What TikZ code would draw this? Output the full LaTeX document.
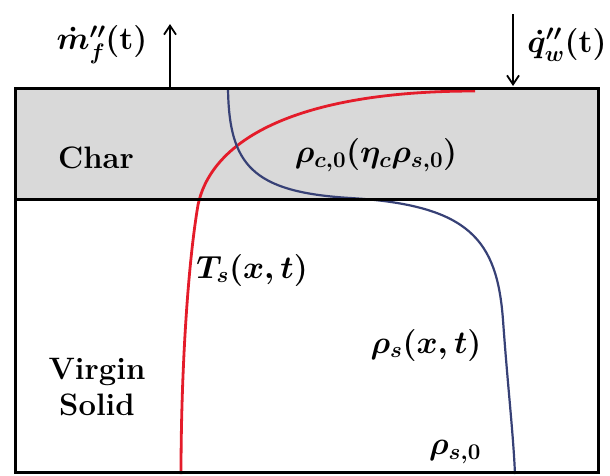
\RequirePackage{fix-cm}
\documentclass[tikz,border=0pt]{standalone}
\usepackage{amsmath}
\usepackage{tikz}
\usetikzlibrary{arrows.meta}

\definecolor{tred}{RGB}{228,28,42}
\definecolor{rhoblue}{RGB}{55,65,118}
\tikzset{lbl/.style={font=\fontsize{31}{36}\selectfont\bfseries\boldmath},
  mlbl/.style={font=\fontsize{32}{38}\selectfont\bfseries\boldmath}}

\begin{document}
\begin{tikzpicture}[x=1pt,y=-1pt,>={Straight Barb[length=9pt,width=12pt]}]
\useasboundingbox (0,0) rectangle (610,475);

%Char layer
\fill[black!15] (15,88) rectangle (598,199);

%Profiles
\draw[tred, line width=2.8pt] (475,91) .. controls (300,91) and (212,138) .. (198,205) .. controls (187,270) and (181,380) .. (181,474);
\draw[rhoblue, line width=2.2pt] (228,88) .. controls (229,165) and (252,192) .. (350,198) .. controls (470,205) and (497,240) .. (503,320) .. controls (508,390) and (513,430) .. (515,474);

%Box
\draw[line width=3pt] (15,88) rectangle (598,472);
\draw[line width=3pt] (15,199)--(598,199);

%Fluxes
\coordinate (mbase) at (170,88); \coordinate (mtip) at (170,24);
\coordinate (qtail) at (513,14); \coordinate (qbase) at (513,86);
\draw[->, line width=1.8pt] (mbase)--(mtip);
\draw[->, line width=1.8pt] (qtail)--(qbase);

\node [mlbl] (mdot) at (102,45) {$\dot{m}''_f(\mathrm{t})$};
\node [mlbl] (qdot) at (567,45) {$\dot{q}''_w(\mathrm{t})$};

\node [lbl] (char) at (96,158) {Char};
\node [mlbl] (rhoc) at (376,155) {$\rho_{c,0}(\eta_c\rho_{s,0})$};
\node [mlbl] (temp) at (252,270) {$T_s(x,t)$};
\node [mlbl] (rhos) at (426,345) {$\rho_s(x,t)$};
\node [mlbl] (rhos0) at (455,452) {$\rho_{s,0}$};
\node [lbl, align=center] (virgin) at (97,387) {Virgin\\Solid};
\end{tikzpicture}
\end{document}
